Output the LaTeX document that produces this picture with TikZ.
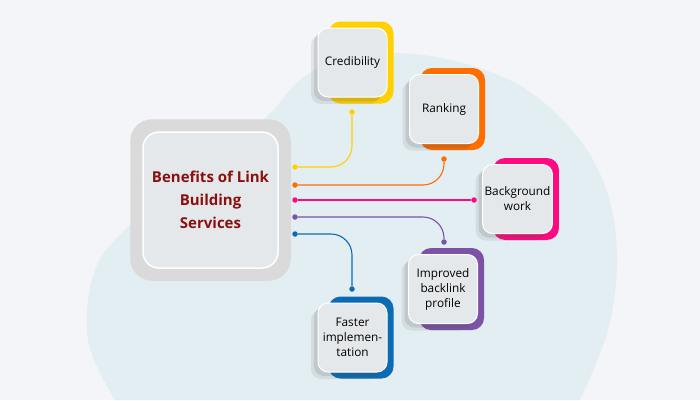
\documentclass[tikz,border=0pt]{standalone}
\usepackage{fontspec}
\setmainfont{Open Sans}
\usetikzlibrary{backgrounds,shadows}

\definecolor{canvas}{HTML}{F3F5F8}
\definecolor{blob}{HTML}{E3EEF2}
\definecolor{ring}{HTML}{DADADA}
\definecolor{cardfill}{HTML}{E5E8EA}
\definecolor{hubred}{HTML}{8A1010}
\definecolor{ylw}{HTML}{FFD100}
\definecolor{org}{HTML}{FF6D00}
\definecolor{pnk}{HTML}{FF0A80}
\definecolor{prp}{HTML}{7B52A6}
\definecolor{blu}{HTML}{0B6CB5}

\tikzset{
  hub/.style={draw=white, line width=1.5pt, fill=cardfill, rounded corners=16pt,
    minimum width=135pt, minimum height=136pt, align=center, text=hubred,
    font=\bfseries\fontsize{15}{23}\selectfont},
  card/.style={draw=white, line width=1pt, fill=cardfill, rounded corners=10pt,
    minimum width=69pt, minimum height=69pt, inner sep=2pt, align=center,
    font=\fontsize{11.8}{15}\selectfont,
    drop shadow={shadow xshift=-7pt, shadow yshift=-7pt, opacity=0.1, fill=black!70},
    drop shadow={shadow xshift=-4pt, shadow yshift=-4pt, opacity=0.14, fill=black!70}},
  dot/.style={circle, fill=#1, inner sep=0pt, minimum size=5.5pt},
  link/.style={draw=#1, line width=1.1pt, rounded corners=21pt},
  frame/.style={fill=#1, rounded corners=12pt},
}

\begin{document}
\begin{tikzpicture}[x=1pt, y=-1pt]
  \useasboundingbox (0,0) rectangle (700,400);

  % central topic
  \node[hub] (bene) at (210.5,200) {Benefits of Link\\Building\\Services};

  % the five benefits
  \node[card] (cred) at (352.5,62.5) {Credibility};
  \node[card] (rank) at (444,109) {Ranking};
  \node[card] (back) at (517.5,199) {Background\\work};
  \node[card] (impr) at (443,289) {Improved\\backlink\\profile};
  \node[card] (fast) at (352.5,337.5) {Faster\\implemen-\\tation};

  % dots at both ends of each link
  \node[dot=ylw] (s1) at (295,167) {};
  \node[dot=org] (s2) at (295,185) {};
  \node[dot=pnk] (s3) at (295,200) {};
  \node[dot=prp] (s4) at (295,217) {};
  \node[dot=blu] (s5) at (295,234) {};
  \node[dot=ylw] (e1) at (352,112) {};
  \node[dot=org] (e2) at (444,159) {};
  \node[dot=pnk] (e3) at (474,200) {};
  \node[dot=prp] (e4) at (444,242) {};
  \node[dot=blu] (e5) at (352,289) {};

  \draw[link=ylw] (s1) -| (e1);
  \draw[link=org] (s2) -| (e2);
  \draw[link=pnk] (s3) -- (e3);
  \draw[link=prp] (s4) -| (e4);
  \draw[link=blu] (s5) -| (e5);

  \begin{scope}[on background layer]
    \fill[canvas] (0,0) rectangle (700,400);
    \fill[blob] plot[smooth, tension=0.6] coordinates {(115,400) (88,340) (95,270)
      (130,225) (200,160) (263,120) (300,80) (340,60) (400,53) (470,65) (530,92)
      (580,140) (608,195) (617,260) (608,330) (580,400)} -- cycle;
    \fill[ring, rounded corners=22pt] ([shift={(-12pt,12pt)}]bene.north west)
      rectangle ([shift={(12pt,-12pt)}]bene.south east);
    \fill[frame=ylw] ([shift={(11pt,6pt)}]cred.north west) rectangle ([shift={(6pt,-6pt)}]cred.south east);
    \fill[frame=org] ([shift={(11pt,6pt)}]rank.north west) rectangle ([shift={(6pt,-6pt)}]rank.south east);
    \fill[frame=pnk] ([shift={(11pt,6pt)}]back.north west) rectangle ([shift={(6pt,-6pt)}]back.south east);
    \fill[frame=prp] ([shift={(11pt,6pt)}]impr.north west) rectangle ([shift={(6pt,-6pt)}]impr.south east);
    \fill[frame=blu] ([shift={(11pt,6pt)}]fast.north west) rectangle ([shift={(6pt,-6pt)}]fast.south east);
  \end{scope}
\end{tikzpicture}
\end{document}
